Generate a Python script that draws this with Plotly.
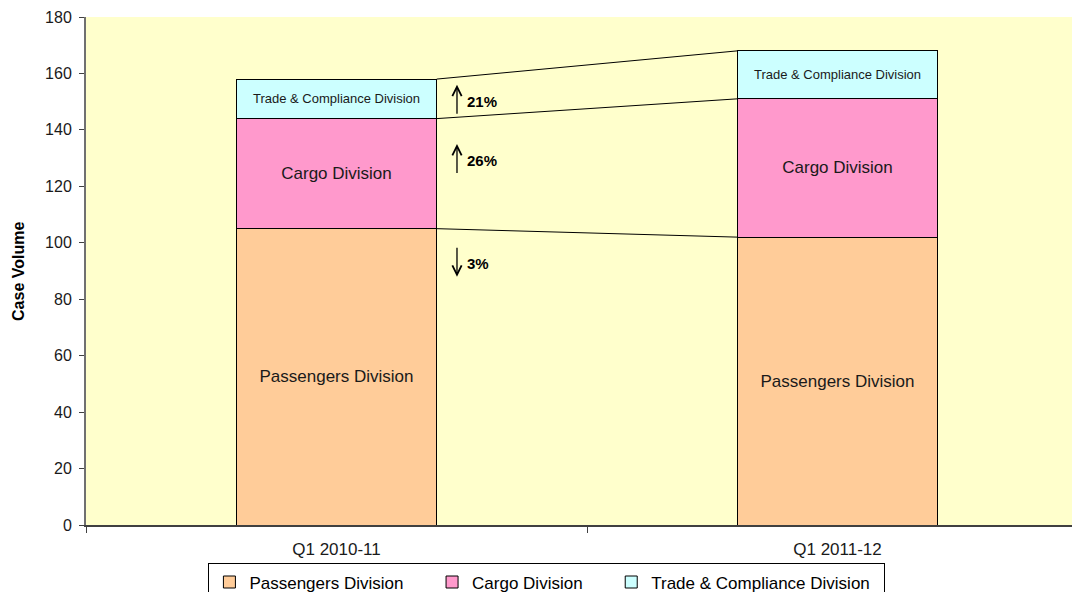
import plotly.graph_objects as go

# ---- data ----
categories = ["Q1 2010-11", "Q1 2011-12"]
passengers = [105, 102]
cargo = [39, 49]
trade = [14, 17]
series_names = ["Passengers Division", "Cargo Division", "Trade & Compliance Division"]
series_values = [passengers, cargo, trade]
series_colors = ["#FFCC99", "#FF99CC", "#CCFFFF"]
label_sizes = [17, 17, 13]
y_ticks = [0, 20, 40, 60, 80, 100, 120, 140, 160, 180]

FONT = "Arial, Liberation Sans, Helvetica, sans-serif"
bar_width = 0.4
NBSP = "\u00a0"
legend_pad = [5, 5, 2]  # trailing spacing in legend entries (layout only)

fig = go.Figure()
for name, vals, col, fs, pad in zip(series_names, series_values, series_colors,
                                    label_sizes, legend_pad):
    fig.add_trace(go.Bar(
        x=categories, y=vals, name=name + NBSP * pad, width=bar_width,
        marker=dict(color=col, line=dict(color="black", width=1)),
        text=[name] * len(vals), textposition="inside", insidetextanchor="middle",
        textangle=0, constraintext="none",
        textfont=dict(size=fs, color="#1a1a1a", family=FONT),
        hovertemplate=name + ": %{y}<extra></extra>",
    ))

# cumulative boundaries for connector lines
bounds = []
run = [0, 0]
for vals in series_values:
    run = [run[0] + vals[0], run[1] + vals[1]]
    bounds.append(list(run))

shapes = []
for b in bounds:
    shapes.append(dict(type="line", xref="x", yref="y",
                       x0=0 + bar_width / 2, x1=1 - bar_width / 2,
                       y0=b[0], y1=b[1], line=dict(color="black", width=1)))

# percentage change annotations (passengers, cargo, trade)
text_y = [92.8, 129, 150]
arrow_x = bar_width / 2 + 0.0405
label_x = arrow_x + 0.016
annotations = []
for vals, ty in zip(series_values, text_y):
    change = (vals[1] - vals[0]) / vals[0] * 100
    pct = f"{abs(round(change)):.0f}%"
    lo, hi = ty - 4.8, ty + 6.0
    if change >= 0:
        head, tail = hi, lo
    else:
        head, tail = lo, hi
    annotations.append(dict(x=arrow_x, y=head, ax=arrow_x, ay=tail, xref="x", yref="y",
                            axref="x", ayref="y", text="", showarrow=True,
                            arrowhead=5, arrowsize=1.4, arrowwidth=1.3, arrowcolor="black",
                            standoff=0, startstandoff=0))
    annotations.append(dict(x=label_x, y=ty, xref="x", yref="y", text=f"<b>{pct}</b>",
                            showarrow=False, xanchor="left", yanchor="middle",
                            font=dict(size=15, color="black", family=FONT)))

annotations.append(dict(text="<b>Case Volume</b>", xref="paper", yref="paper",
                        x=-0.0679, y=0.5, xanchor="center", yanchor="middle",
                        textangle=-90, showarrow=False,
                        font=dict(size=16, color="black", family=FONT)))

fig.update_layout(
    width=1080, height=592,
    barmode="stack",
    paper_bgcolor="white",
    plot_bgcolor="#FFFFCC",
    margin=dict(l=78, r=0, t=9, b=74.5, autoexpand=False),
    font=dict(family=FONT, size=17, color="black"),
    showlegend=True,
    legend=dict(orientation="h", x=0.46, xanchor="center", y=-0.0757, yanchor="top",
                bgcolor="white", bordercolor="black", borderwidth=1,
                font=dict(size=17, family=FONT, color="black"),
                traceorder="normal"),
    xaxis=dict(type="category", range=[-0.5, 1.5], showgrid=False, zeroline=False,
               showline=True, linecolor="#404040", linewidth=1.5, automargin=False,
               ticks="outside", tickson="boundaries", ticklen=6, tickcolor="#404040",
               ticklabelstandoff=8,
               tickfont=dict(size=17, family=FONT, color="#1a1a1a")),
    yaxis=dict(range=[0, 180], tickvals=y_ticks, showgrid=False, zeroline=False,
               showline=True, linecolor="#707070", linewidth=2, automargin=False,
               ticks="outside", ticklen=5, tickcolor="#404040",
               ticklabelstandoff=4, ticklabeloverflow="allow",
               tickfont=dict(size=16, family=FONT, color="#1a1a1a")),
    shapes=shapes,
    annotations=annotations,
    bargap=0.6,
)

fig.write_html("out.html")
